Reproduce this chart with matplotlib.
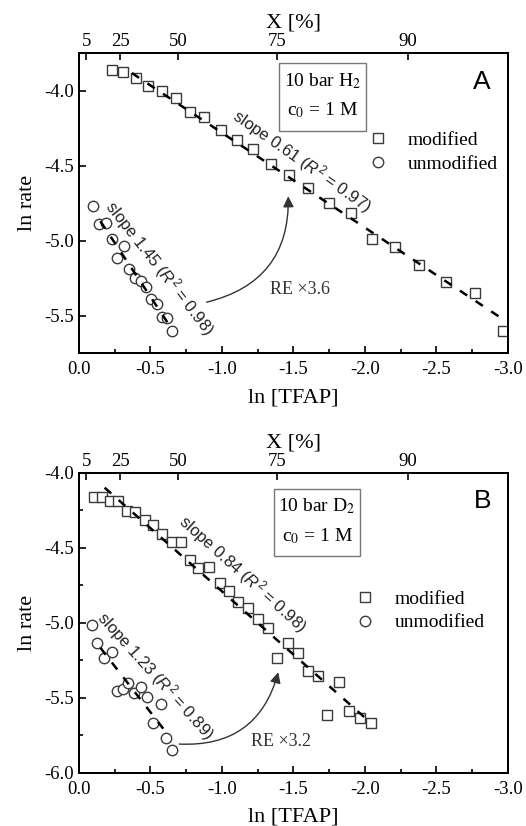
import numpy as np
import matplotlib
matplotlib.use("Agg")
import matplotlib.pyplot as plt
from matplotlib.patches import Rectangle

plt.rcParams['font.family'] = ['Liberation Serif', 'DejaVu Serif']
plt.rcParams['axes.unicode_minus'] = False
plt.rcParams['mathtext.fontset'] = 'custom'
plt.rcParams['mathtext.rm'] = 'Liberation Sans'
plt.rcParams['mathtext.it'] = 'Liberation Sans:italic'

# ---- panel A (10 bar H2) ----
a_mod_x = [-0.23, -0.31, -0.40, -0.485, -0.578, -0.676, -0.776, -0.876, -0.993, -1.103,
           -1.219, -1.343, -1.471, -1.604, -1.75, -1.90, -2.047, -2.21, -2.38, -2.564,
           -2.769, -2.967]
a_mod_y = [-3.86, -3.875, -3.918, -3.967, -4.004, -4.049, -4.145, -4.175, -4.265, -4.327,
           -4.389, -4.487, -4.56, -4.653, -4.749, -4.815, -4.989, -5.045, -5.16, -5.278,
           -5.353, -5.604]
a_unm_x = [-0.096, -0.142, -0.193, -0.228, -0.315, -0.268, -0.352, -0.392, -0.434, -0.469,
           -0.501, -0.548, -0.578, -0.618, -0.653]
a_unm_y = [-4.767, -4.893, -4.882, -4.989, -5.038, -5.116, -5.193, -5.249, -5.271, -5.309,
           -5.393, -5.42, -5.511, -5.516, -5.604]

# ---- panel B (10 bar D2) ----
b_mod_x = [-0.107, -0.159, -0.217, -0.275, -0.333, -0.392, -0.462, -0.52, -0.578, -0.648,
           -0.713, -0.776, -0.834, -0.911, -0.986, -1.051, -1.114, -1.184, -1.254, -1.324,
           -1.387, -1.464, -1.534, -1.604, -1.673, -1.737, -1.82, -1.89, -1.965, -2.04]
b_mod_y = [-4.164, -4.164, -4.187, -4.187, -4.253, -4.264, -4.315, -4.349, -4.409, -4.46,
           -4.464, -4.582, -4.633, -4.627, -4.738, -4.787, -4.865, -4.90, -4.977, -5.038,
           -5.233, -5.138, -5.20, -5.322, -5.355, -5.615, -5.393, -5.589, -5.637, -5.671]
b_unm_x = [-0.089, -0.124, -0.175, -0.228, -0.263, -0.305, -0.345, -0.385, -0.434, -0.478,
           -0.571, -0.515, -0.608, -0.648]
b_unm_y = [-5.015, -5.133, -5.233, -5.193, -5.453, -5.444, -5.40, -5.471, -5.431, -5.497,
           -5.542, -5.667, -5.771, -5.849]

# x extent of the dashed fit lines
a_mod_fit_range = [-0.37, -2.97]
a_unm_fit_range = [-0.15, -0.65]
b_mod_fit_range = [-0.18, -2.04]
b_unm_fit_range = [-0.15, -0.63]

conv_ticks = [5, 25, 50, 75, 90]   # X [%]
x_ticks = [0.0, -0.5, -1.0, -1.5, -2.0, -2.5, -3.0]

panels = [
    dict(mod=(a_mod_x, a_mod_y), unm=(a_unm_x, a_unm_y),
         mod_rng=a_mod_fit_range, unm_rng=a_unm_fit_range,
         ylim=(-5.75, -3.75), yticks=[-4.0, -4.5, -5.0, -5.5],
         gas='H', letter='A', re='RE \u00d73.6',
         mod_txt=r'slope 0.61 ($R^2$ = 0.97)', mod_pos=(-1.56, -4.47), mod_rot=-35,
         unm_txt=r'slope 1.45 ($R^2$ = 0.98)', unm_pos=(-0.566, -5.18), unm_rot=-52,
         re_pos=(-1.545, -5.327), arr=((-0.893, -5.411), (-1.464, -4.705)),
         box=(0.466, 0.74, 0.203, 0.227), box_txt_y=(0.905, 0.808), leg=(0.675, 0.738)),
    dict(mod=(b_mod_x, b_mod_y), unm=(b_unm_x, b_unm_y),
         mod_rng=b_mod_fit_range, unm_rng=b_unm_fit_range,
         ylim=(-6.0, -4.0), yticks=[-4.0, -4.5, -5.0, -5.5, -6.0],
         gas='D', letter='B', re='RE \u00d73.2',
         mod_txt=r'slope 0.84 ($R^2$ = 0.98)', mod_pos=(-1.147, -4.671), mod_rot=-42,
         unm_txt=r'slope 1.23 ($R^2$ = 0.89)', unm_pos=(-0.538, -5.355), unm_rot=-48,
         re_pos=(-1.41, -5.795), arr=((-0.702, -5.809), (-1.394, -5.33)),
         box=(0.455, 0.724, 0.200, 0.223), box_txt_y=(0.888, 0.79), leg=(0.645, 0.608)),
]

fig = plt.figure(figsize=(5.26, 8.26), dpi=100)
axes_rects = [[0.150, 0.5726, 0.8156, 0.3632], [0.150, 0.0645, 0.8156, 0.3632]]
edge = '#3a3a3a'

for rect, p in zip(axes_rects, panels):
    ax = fig.add_axes(rect)
    ax.plot(*p['mod'], 's', ms=7.5, mfc='white', mec=edge, mew=1.0, label='modified', zorder=3)
    ax.plot(*p['unm'], 'o', ms=7.5, mfc='white', mec=edge, mew=1.0, label='unmodified', zorder=3)

    for key, rng in (('mod', 'mod_rng'), ('unm', 'unm_rng')):
        xs, ys = p[key]
        k, b = np.polyfit(xs, ys, 1)
        xx = np.array(p[rng])
        ax.plot(xx, k * xx + b, color='black', lw=1.8, dashes=(3.5, 4), zorder=4)

    ax.set_xlim(0, -3.0)
    ax.set_ylim(*p['ylim'])
    ax.set_xticks(x_ticks)
    ax.set_xticklabels([f'{v:.1f}' for v in x_ticks])
    ax.set_xticks(np.arange(-0.25, -3.0, -0.5), minor=True)
    ax.set_yticks(p['yticks'])
    ax.set_yticklabels([f'{v:.1f}' for v in p['yticks']])
    lo, hi = p['ylim']
    ax.set_yticks(np.arange(hi - 0.25, lo, -0.5), minor=True)
    ax.tick_params(which='both', direction='in', top=False, right=False, labelsize=13.5, width=1.2)
    ax.tick_params(which='major', length=5)
    ax.tick_params(which='minor', length=3)
    ax.tick_params(axis='x', pad=6)
    for s in ax.spines.values():
        s.set_linewidth(1.4)
    ax.set_xlabel('ln [TFAP]', fontsize=16, labelpad=7)
    ax.set_ylabel('ln rate', fontsize=16, labelpad=5)

    top = ax.twiny()
    top.set_xlim(ax.get_xlim())
    top.set_xticks([np.log(1 - c / 100) for c in conv_ticks])
    top.set_xticklabels([str(c) for c in conv_ticks])
    top.tick_params(direction='in', length=5, width=1.2, labelsize=13.5, pad=2)
    top.set_xlabel('X [%]', fontsize=16, labelpad=4)
    for s in top.spines.values():
        s.set_linewidth(1.4)

    ax.text(*p['mod_pos'], p['mod_txt'], rotation=p['mod_rot'], rotation_mode='anchor',
            ha='center', va='center', fontsize=12, family='Liberation Sans', color='#222')
    ax.text(*p['unm_pos'], p['unm_txt'], rotation=p['unm_rot'], rotation_mode='anchor',
            ha='center', va='center', fontsize=12, family='Liberation Sans', color='#222')
    ax.text(*p['re_pos'], p['re'], ha='center', va='center', fontsize=13, color='#333')
    ax.annotate('', xy=p['arr'][1], xytext=p['arr'][0],
                arrowprops=dict(arrowstyle='-|>', connectionstyle='arc3,rad=0.4',
                                color='#333', lw=1.0, mutation_scale=16, shrinkA=0, shrinkB=0))

    bx, by, bw, bh = p['box']
    ax.add_patch(Rectangle((bx, by), bw, bh, transform=ax.transAxes, fc='white',
                           ec='#777', lw=1.0, zorder=5))
    cx = bx + bw / 2
    ax.text(cx, p['box_txt_y'][0], '10 bar %s$_2$' % p['gas'], transform=ax.transAxes,
            ha='center', va='center', fontsize=14, math_fontfamily='stix', zorder=6)
    ax.text(cx, p['box_txt_y'][1], 'c$_0$ = 1 M', transform=ax.transAxes,
            ha='center', va='center', fontsize=14, math_fontfamily='stix', zorder=6)
    ax.text(0.94, 0.905, p['letter'], transform=ax.transAxes, ha='center', va='center',
            fontsize=19, family='Liberation Sans')

    ax.legend(loc='upper left', bbox_to_anchor=p['leg'],
              frameon=False, fontsize=14, borderpad=0, borderaxespad=0, handlelength=1.0,
              handletextpad=1.0, labelspacing=0.3, numpoints=1)

fig.savefig('out.png', dpi=100)
